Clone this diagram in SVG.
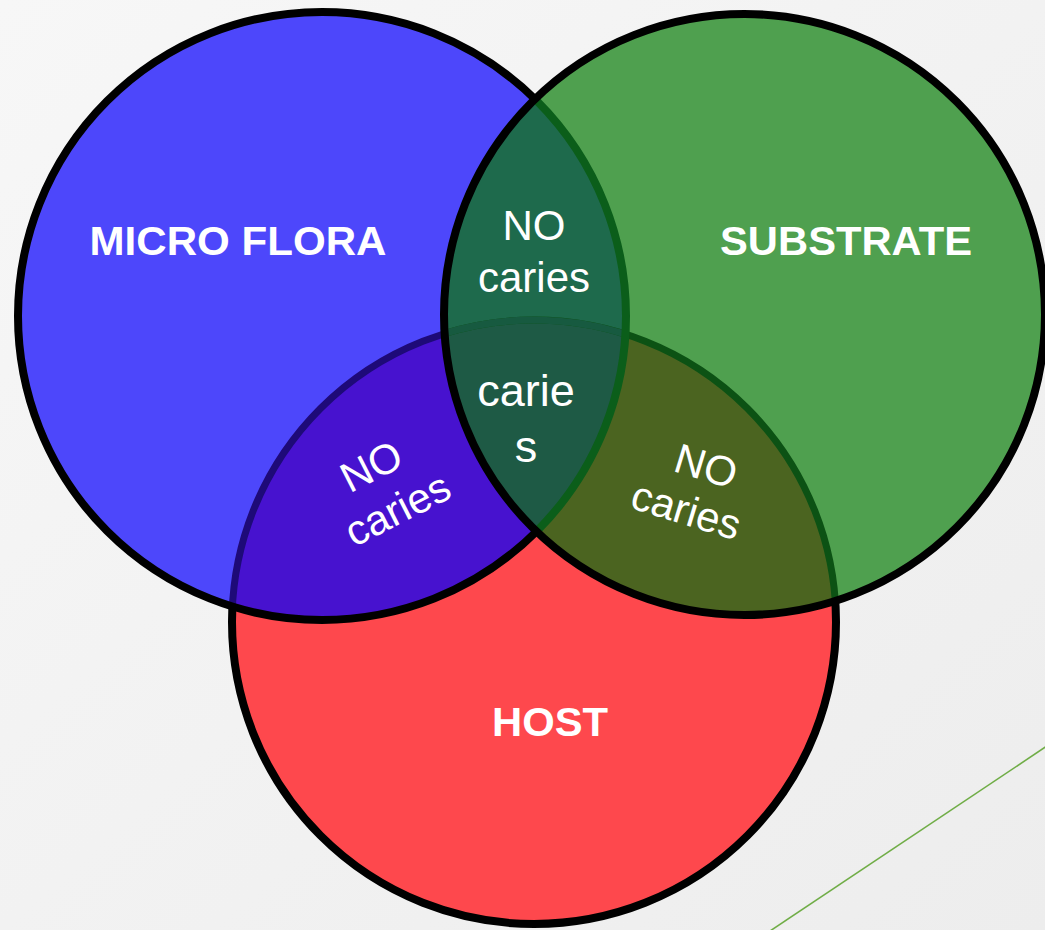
<svg xmlns="http://www.w3.org/2000/svg" width="1045" height="930" viewBox="0 0 1045 930">
<defs>
<linearGradient id="bg" x1="0" y1="0" x2="1" y2="1">
<stop offset="0" stop-color="#f7f7f7"/>
<stop offset="1" stop-color="#ededed"/>
</linearGradient>
<clipPath id="cB"><circle cx="322" cy="316" r="304"/></clipPath>
<clipPath id="cG"><circle cx="744.5" cy="314.5" r="300.5"/></clipPath>
<style>
.ring{fill:none;stroke:#000;stroke-width:8}
.big{font-family:"Liberation Sans",Arial,sans-serif;font-weight:bold;font-size:41px;fill:#fff;text-anchor:middle}
.lbl{font-family:"Liberation Sans",Arial,sans-serif;font-size:42px;fill:#fff;text-anchor:middle}
</style>
</defs>
<rect width="1045" height="930" fill="url(#bg)"/>
<line x1="1047" y1="746" x2="770" y2="931" stroke="#70ad47" stroke-width="1.6"/>

<g id="host">
<circle cx="534" cy="622" r="302" fill="#fe484d"/>
<circle class="ring" cx="534" cy="622" r="302"/>
</g>

<g id="micro-flora">
<circle cx="322" cy="316" r="304" fill="#4d47fb"/>
<g clip-path="url(#cB)">
<circle cx="534" cy="622" r="302" fill="#4712cf"/>
<circle cx="534" cy="622" r="302" fill="none" stroke="#1e0a78" stroke-width="7"/>
</g>
<circle class="ring" cx="322" cy="316" r="304"/>
</g>

<g id="substrate">
<circle cx="744.5" cy="314.5" r="300.5" fill="#4fa04f"/>
<g clip-path="url(#cG)">
<circle cx="534" cy="622" r="302" fill="#4b6420"/>
<circle cx="322" cy="316" r="304" fill="#1e6a4c"/>
<g clip-path="url(#cB)">
<circle cx="534" cy="622" r="302" fill="#1e5a45"/>
</g>
<circle cx="534" cy="622" r="302" fill="none" stroke="#0c5214" stroke-width="7"/>
<g clip-path="url(#cB)">
<circle cx="534" cy="622" r="302" fill="none" stroke="#175a40" stroke-width="7"/>
</g>
<circle cx="322" cy="316" r="304" fill="none" stroke="#0b5e1a" stroke-width="8"/>
</g>
<circle class="ring" cx="744.5" cy="314.5" r="300.5"/>
</g>

<g id="labels">
<text class="big" x="238" y="255" textLength="297" lengthAdjust="spacingAndGlyphs">MICRO FLORA</text>
<text class="big" x="846" y="255" textLength="252" lengthAdjust="spacingAndGlyphs">SUBSTRATE</text>
<text class="big" x="550" y="736" textLength="116" lengthAdjust="spacingAndGlyphs">HOST</text>
<text class="lbl" x="534" y="240">NO</text>
<text class="lbl" x="534" y="292">caries</text>
<text class="lbl" x="526" y="406" style="font-size:45px">carie</text>
<text class="lbl" x="526" y="462" style="font-size:45px">s</text>
<g transform="translate(404,522) rotate(-27)">
<text class="lbl" x="0" y="0">caries</text>
<text class="lbl" x="-4" y="-50">NO</text>
</g>
<g transform="translate(682,524) rotate(17)">
<text class="lbl" x="0" y="0">caries</text>
<text class="lbl" x="6" y="-48">NO</text>
</g>
</g>
</svg>
